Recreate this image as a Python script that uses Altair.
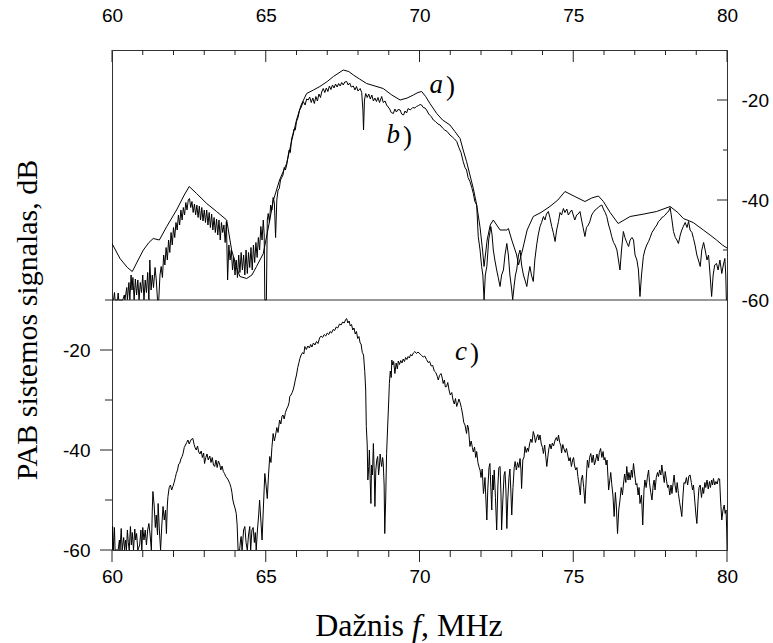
import altair as alt
import pandas as pd

# ---------------- data (frequency MHz, level dB) ----------------
# curve a) – upper panel, smooth envelope
a_pts = [
    (60.00, -48.7), (60.26, -51.7), (60.50, -53.5), (60.66, -54.3), (60.85, -52.0), (61.02, -50.0),
    (61.20, -48.5), (61.34, -47.7), (61.54, -48.0), (61.78, -45.3), (62.10, -42.0), (62.35, -39.0),
    (62.51, -37.3), (62.75, -38.7), (63.08, -40.7), (63.40, -42.3), (63.73, -44.0), (63.89, -50.0),
    (64.05, -53.5), (64.16, -55.3), (64.38, -55.7), (64.55, -55.0), (64.70, -53.3), (64.92, -50.7),
    (65.10, -45.0), (65.25, -40.0), (65.45, -36.0), (65.68, -32.7), (65.85, -28.0), (66.00, -24.0),
    (66.15, -21.0), (66.33, -18.7), (66.55, -18.0), (66.76, -17.3), (67.00, -16.3), (67.20, -15.3),
    (67.52, -14.0), (67.70, -14.3), (67.85, -15.0), (68.05, -15.8), (68.28, -16.7), (68.55, -17.2),
    (68.82, -17.7), (69.10, -19.0), (69.37, -20.0), (69.60, -19.6), (69.80, -19.0), (69.95, -18.5),
    (70.07, -18.3), (70.20, -19.3), (70.34, -20.7), (70.56, -22.7), (70.75, -24.0), (70.99, -25.0),
    (71.15, -26.3), (71.32, -27.7), (71.42, -30.0), (71.53, -32.3), (71.64, -35.0), (71.75, -37.7),
    (71.86, -41.0), (71.97, -45.5), (72.05, -50.0), (72.10, -53.3), (72.20, -48.0), (72.30, -45.0),
    (72.40, -44.0), (72.62, -46.0), (72.84, -46.0), (72.89, -45.7), (73.00, -48.0), (73.16, -51.0),
    (73.22, -53.0), (73.35, -50.0), (73.50, -46.0), (73.70, -43.3), (73.95, -42.5), (74.24, -41.3),
    (74.50, -40.0), (74.73, -38.3), (75.05, -39.3), (75.38, -40.3), (75.60, -39.6), (75.82, -39.2),
    (75.98, -40.3), (76.20, -42.5), (76.46, -44.7), (76.85, -43.3), (77.30, -42.8), (77.71, -42.3),
    (78.15, -41.3), (78.40, -42.5), (78.58, -43.7), (78.90, -44.5), (79.23, -46.0), (79.45, -47.0),
    (79.66, -48.0), (79.85, -49.0), (80.00, -49.6),
]

# curve b) – upper panel, noisy
b_pts = [
    (60.00, -60), (60.05, -60), (60.08, -58.5), (60.10, -60), (60.18, -60), (60.20, -58.6), (60.22, -60),
    (60.35, -60), (60.40, -59), (60.42, -60), (60.48, -57.5), (60.50, -60), (60.55, -56.5), (60.58, -60),
    (60.62, -55), (60.65, -58), (60.68, -55.5), (60.72, -60), (60.76, -55.8), (60.80, -59), (60.84, -56),
    (60.88, -60), (60.92, -56.5), (60.96, -58.5), (61.00, -55), (61.04, -60), (61.08, -56), (61.12, -58.5),
    (61.16, -54.5), (61.20, -60), (61.23, -52), (61.27, -58), (61.31, -55), (61.35, -57.5), (61.40, -53.5),
    (61.44, -56), (61.48, -60), (61.52, -60), (61.56, -55), (61.60, -53.3), (61.64, -55.5), (61.68, -51),
    (61.72, -53), (61.76, -49.5), (61.80, -52), (61.84, -48), (61.88, -50.5), (61.92, -46.5), (61.96, -49),
    (62.00, -45.5), (62.04, -47.5), (62.08, -44.5), (62.12, -46), (62.16, -43), (62.20, -45), (62.24, -42),
    (62.28, -44), (62.32, -41.5), (62.36, -43), (62.40, -40.5), (62.44, -42), (62.48, -40), (62.52, -39.7),
    (62.56, -41.5), (62.60, -40.3), (62.64, -42.5), (62.68, -40.8), (62.72, -43), (62.76, -41), (62.80, -43.5),
    (62.84, -41.2), (62.88, -44), (62.92, -41.5), (62.96, -44.2), (63.00, -42), (63.04, -44.5), (63.08, -42),
    (63.12, -45), (63.16, -42.5), (63.20, -45.5), (63.24, -42.8), (63.28, -46), (63.32, -43.5), (63.36, -46.5),
    (63.40, -43.8), (63.44, -47), (63.48, -44), (63.52, -48), (63.56, -44.5), (63.60, -46.5), (63.64, -45),
    (63.68, -48.5), (63.72, -44.3), (63.76, -56), (63.80, -49), (63.84, -52), (63.88, -50), (63.92, -54),
    (63.96, -51.5), (64.00, -55), (64.04, -52), (64.08, -55.5), (64.12, -51), (64.16, -54.5), (64.20, -50.5),
    (64.24, -54), (64.28, -51), (64.32, -55), (64.36, -50), (64.40, -54.7), (64.44, -50.5), (64.48, -53.5),
    (64.52, -49.5), (64.56, -54), (64.60, -49), (64.64, -52.5), (64.68, -48.5), (64.72, -51.5), (64.76, -47.5),
    (64.80, -50), (64.84, -45.3), (64.88, -48), (64.92, -44), (64.95, -47), (64.97, -60), (65.02, -60),
    (65.05, -44), (65.08, -42.7), (65.12, -44.5), (65.16, -41), (65.20, -42), (65.24, -39.5), (65.28, -40.5),
    (65.32, -47.5), (65.36, -40), (65.40, -38), (65.44, -37.7), (65.48, -36), (65.52, -35.5), (65.56, -35),
    (65.60, -33.5), (65.64, -34), (65.68, -33), (65.72, -31.5), (65.76, -30), (65.80, -30.5), (65.84, -27.7),
    (65.88, -27), (65.92, -25.8), (65.96, -26), (66.00, -24.3), (66.05, -23.5), (66.10, -22), (66.15, -21.5),
    (66.22, -20.3), (66.28, -21), (66.33, -19.8), (66.38, -20), (66.43, -19.4), (66.48, -20.5), (66.53, -19.6),
    (66.58, -20.7), (66.63, -19.3), (66.68, -20.2), (66.73, -18.8), (66.78, -19.5), (66.82, -18.4), (66.87, -17.7),
    (66.92, -18.5), (66.97, -17.6), (67.02, -18.3), (67.07, -17.2), (67.12, -17.9), (67.17, -17), (67.22, -17.6),
    (67.27, -16.8), (67.32, -17.4), (67.37, -16.7), (67.42, -17.2), (67.47, -16.5), (67.52, -17), (67.57, -16.4),
    (67.63, -16.3), (67.68, -17), (67.73, -16.6), (67.78, -17.4), (67.85, -17.2), (67.90, -18), (67.95, -17.3),
    (68.00, -18.2), (68.07, -17.7), (68.12, -18.5), (68.16, -22), (68.18, -26), (68.21, -20), (68.25, -18.7),
    (68.30, -19.5), (68.35, -18.8), (68.40, -19.8), (68.45, -19), (68.50, -20.2), (68.55, -19.6), (68.60, -20.3),
    (68.65, -19.5), (68.70, -20.5), (68.77, -19.3), (68.82, -20.5), (68.88, -20.2), (68.93, -21), (68.98, -21.4),
    (69.03, -21.8), (69.08, -22.5), (69.15, -22.7), (69.20, -21.8), (69.25, -22.4), (69.30, -21.9), (69.37, -22),
    (69.42, -22.8), (69.48, -23), (69.53, -22.2), (69.58, -22.6), (69.63, -21.7), (69.70, -22), (69.78, -21.5),
    (69.85, -21.6), (69.90, -21.3), (69.97, -21.1), (70.02, -20.9), (70.07, -21), (70.12, -21.5), (70.18, -21.6),
    (70.23, -22), (70.30, -22.8), (70.38, -23.3), (70.45, -24), (70.52, -24.3), (70.60, -24.8), (70.67, -25),
    (70.75, -25.6), (70.82, -26), (70.90, -26.3), (70.99, -27), (71.07, -27.4), (71.14, -27.8), (71.21, -28.3),
    (71.28, -29.5), (71.35, -30.5), (71.42, -32.3), (71.48, -33.5), (71.53, -34), (71.58, -35.5), (71.64, -36.3),
    (71.70, -37.5), (71.75, -38.7), (71.80, -40.3), (71.86, -41), (71.91, -47.3), (71.97, -50), (72.02, -53.3),
    (72.06, -55), (72.10, -60), (72.14, -55), (72.19, -53.3), (72.25, -48), (72.32, -45.3), (72.36, -47),
    (72.40, -50), (72.45, -52), (72.51, -54), (72.56, -55.5), (72.62, -57.3), (72.67, -55), (72.73, -54),
    (72.78, -51), (72.84, -48.7), (72.89, -51), (72.94, -55), (73.00, -58), (73.03, -60), (73.08, -57),
    (73.12, -55), (73.16, -54), (73.22, -51), (73.27, -50), (73.32, -53), (73.38, -55), (73.43, -56),
    (73.49, -57.3), (73.54, -55), (73.59, -53.3), (73.64, -55), (73.70, -56.3), (73.75, -52), (73.81, -49),
    (73.86, -47), (73.92, -45.3), (73.97, -44.5), (74.03, -43.3), (74.08, -44), (74.13, -42.8), (74.19, -42.3),
    (74.24, -43.5), (74.30, -45.3), (74.35, -46.5), (74.41, -48.3), (74.46, -46), (74.52, -44.3), (74.57, -42.5),
    (74.62, -43), (74.68, -41.7), (74.73, -42.5), (74.79, -41.8), (74.84, -43), (74.90, -42.4), (74.95, -42),
    (75.00, -43), (75.05, -44), (75.11, -43), (75.16, -42.8), (75.22, -42.3), (75.27, -44), (75.32, -45.5),
    (75.38, -47.3), (75.43, -45.5), (75.49, -45), (75.54, -44.3), (75.60, -43), (75.65, -42.5), (75.71, -42),
    (75.76, -41.8), (75.82, -41.4), (75.87, -41.2), (75.93, -41), (75.98, -41.8), (76.04, -42.5), (76.09, -43.3),
    (76.15, -45), (76.20, -46), (76.25, -47.3), (76.31, -48.5), (76.36, -49), (76.42, -50), (76.47, -52),
    (76.52, -54), (76.57, -50), (76.63, -46.3), (76.68, -47.5), (76.74, -48.5), (76.80, -49.3), (76.85, -48),
    (76.91, -47.5), (76.96, -48), (77.01, -51), (77.07, -52), (77.12, -54), (77.17, -59.3), (77.22, -55),
    (77.28, -51.3), (77.33, -50), (77.39, -49), (77.45, -48.3), (77.50, -47.5), (77.56, -46.5), (77.61, -46),
    (77.66, -45.5), (77.72, -45), (77.77, -44.3), (77.83, -44), (77.88, -43.5), (77.94, -43.3), (77.99, -43),
    (78.05, -42.5), (78.10, -42.3), (78.15, -41.5), (78.21, -44), (78.26, -46.3), (78.32, -47.5), (78.37, -48),
    (78.42, -48.7), (78.48, -47), (78.53, -46), (78.58, -45.3), (78.64, -44.5), (78.70, -45.5), (78.75, -44.3),
    (78.80, -46), (78.86, -46.5), (78.91, -47.7), (78.96, -49), (79.02, -51), (79.07, -52), (79.13, -53.3),
    (79.18, -50), (79.24, -48.5), (79.29, -50), (79.35, -52), (79.40, -51), (79.45, -55), (79.50, -59.3),
    (79.55, -55), (79.60, -53), (79.66, -52.7), (79.71, -54), (79.77, -52), (79.83, -54.7), (79.88, -53),
    (79.93, -51.7), (79.96, -55), (79.98, -60), (80.00, -60),
]

# curve c) – lower panel, noisy
c_pts = [
    (60.00, -60), (60.02, -55.3), (60.04, -60), (60.08, -55.5), (60.10, -60), (60.20, -60), (60.24, -58),
    (60.26, -60), (60.30, -55.7), (60.33, -60), (60.38, -57.5), (60.41, -60), (60.44, -58), (60.47, -60),
    (60.50, -56), (60.53, -58.5), (60.56, -60), (60.60, -55.3), (60.63, -59), (60.66, -56.5), (60.70, -60),
    (60.74, -55.8), (60.77, -58), (60.80, -56.7), (60.84, -60), (60.90, -59), (60.94, -56), (60.97, -60),
    (61.00, -55.5), (61.04, -58), (61.08, -56), (61.12, -59), (61.16, -56), (61.20, -54.7), (61.24, -57),
    (61.28, -60), (61.31, -52), (61.33, -48.3), (61.37, -51), (61.41, -55.5), (61.44, -53), (61.48, -57),
    (61.50, -50.7), (61.54, -56), (61.58, -60), (61.62, -55), (61.66, -51.3), (61.70, -54), (61.74, -52),
    (61.77, -56.7), (61.80, -51), (61.82, -49.3), (61.86, -47.5), (61.90, -47), (61.94, -48), (61.98, -47.3),
    (62.02, -46.5), (62.06, -45.5), (62.09, -44.7), (62.13, -44), (62.17, -42.8), (62.20, -42.7), (62.24, -41.8),
    (62.28, -41.3), (62.31, -40.7), (62.35, -39.5), (62.39, -39), (62.43, -38.5), (62.47, -38), (62.51, -38.8),
    (62.55, -38.2), (62.59, -37.8), (62.63, -37.7), (62.67, -38.9), (62.70, -39.5), (62.74, -40), (62.78, -39.2),
    (62.82, -40.4), (62.86, -40.8), (62.90, -40.2), (62.94, -41.5), (62.98, -40.6), (63.01, -42.7), (63.05, -41.5),
    (63.09, -40.8), (63.13, -42), (63.18, -41.2), (63.22, -42.5), (63.26, -41.5), (63.30, -43), (63.34, -43.3),
    (63.38, -42), (63.42, -43.5), (63.46, -42.2), (63.50, -42.8), (63.54, -44), (63.58, -43.2), (63.62, -44.3),
    (63.66, -44.7), (63.70, -45.3), (63.74, -45.6), (63.78, -46), (63.83, -46.7), (63.87, -47.5), (63.90, -48.5),
    (63.93, -50), (63.97, -51), (64.01, -51.8), (64.04, -52.7), (64.07, -55), (64.10, -60), (64.15, -60),
    (64.18, -58), (64.20, -57.3), (64.23, -60), (64.28, -56), (64.32, -55.3), (64.36, -58.5), (64.40, -60),
    (64.44, -57), (64.48, -55.3), (64.51, -60), (64.55, -56), (64.59, -55.5), (64.63, -58.5), (64.66, -56.5),
    (64.69, -60), (64.73, -56), (64.77, -53), (64.80, -50), (64.84, -54), (64.88, -58), (64.92, -52),
    (64.97, -44.7), (65.01, -47), (65.05, -49.7), (65.09, -45), (65.13, -41.3), (65.17, -42.5), (65.20, -39.5),
    (65.24, -36.7), (65.28, -38.2), (65.32, -37), (65.36, -35.5), (65.40, -36.5), (65.45, -34), (65.49, -34.8),
    (65.53, -33.2), (65.56, -33), (65.60, -33.8), (65.64, -32.5), (65.68, -31.8), (65.72, -31.3), (65.76, -30.5),
    (65.78, -29.3), (65.82, -29), (65.86, -28.5), (65.89, -28), (65.93, -27), (65.96, -26), (66.00, -25),
    (66.04, -23.5), (66.08, -22.5), (66.11, -21.7), (66.15, -21), (66.20, -20.5), (66.24, -20.8), (66.27, -19.3),
    (66.32, -19.9), (66.37, -19.2), (66.42, -19.6), (66.46, -18.9), (66.50, -19.4), (66.55, -18.6), (66.60, -19),
    (66.65, -18.3), (66.70, -18.7), (66.75, -17.6), (66.80, -17.2), (66.85, -17.5), (66.90, -16.9), (66.95, -17.2),
    (67.00, -16.6), (67.05, -16.9), (67.09, -16.3), (67.14, -16.6), (67.19, -15.9), (67.24, -16.1), (67.29, -15.4),
    (67.34, -15.6), (67.40, -14.8), (67.45, -15), (67.50, -14.4), (67.55, -14.6), (67.60, -13.9), (67.63, -13.7),
    (67.67, -14.6), (67.71, -14.2), (67.75, -15.2), (67.79, -14.9), (67.83, -16), (67.87, -15.6), (67.91, -16.8),
    (67.95, -16.3), (67.99, -17.7), (68.03, -17.3), (68.07, -18.6), (68.10, -18.8), (68.14, -20.5), (68.18, -21),
    (68.22, -24.3), (68.25, -28), (68.27, -35.3), (68.30, -39), (68.32, -46), (68.35, -43.3), (68.37, -40),
    (68.40, -47), (68.42, -50.7), (68.44, -43), (68.47, -45), (68.50, -38.7), (68.53, -45), (68.55, -51.3),
    (68.58, -44), (68.61, -42), (68.64, -41.3), (68.67, -45), (68.70, -43), (68.72, -40.8), (68.75, -42.5),
    (68.77, -43.3), (68.80, -41.5), (68.82, -42.5), (68.85, -47), (68.87, -56.7), (68.90, -50), (68.93, -40.7),
    (68.96, -36), (69.00, -30), (69.02, -26.7), (69.05, -24.2), (69.08, -25.5), (69.10, -22), (69.13, -23),
    (69.16, -22.3), (69.20, -24.7), (69.24, -22.6), (69.28, -23.8), (69.31, -22.2), (69.35, -22.9), (69.39, -22.1),
    (69.43, -22.6), (69.47, -21.8), (69.51, -22.3), (69.55, -21.5), (69.59, -21.9), (69.63, -21.3), (69.67, -21.6),
    (69.71, -20.9), (69.75, -21.2), (69.80, -20.6), (69.85, -20.3), (69.90, -20.7), (69.95, -20.4), (70.02, -20.8),
    (70.07, -21.1), (70.12, -21.4), (70.17, -21.2), (70.23, -21.9), (70.28, -22.5), (70.33, -22.3), (70.38, -23.2),
    (70.43, -23.1), (70.48, -24.2), (70.53, -24.5), (70.58, -25.3), (70.61, -26), (70.65, -25.1), (70.70, -24.7),
    (70.74, -25.6), (70.77, -26.7), (70.81, -26), (70.84, -27.4), (70.88, -27.3), (70.92, -26.5), (70.96, -28),
    (71.00, -29), (71.05, -28.5), (71.09, -30), (71.13, -30.8), (71.17, -29.7), (71.21, -31.3), (71.25, -30.5),
    (71.28, -29.8), (71.32, -30.5), (71.36, -31.5), (71.40, -32.8), (71.44, -34.5), (71.48, -35), (71.53, -36.7),
    (71.56, -35), (71.59, -35.5), (71.62, -37.8), (71.64, -39.3), (71.68, -38.2), (71.72, -39.5), (71.75, -40.4),
    (71.79, -39.4), (71.83, -41.5), (71.86, -40.3), (71.90, -42.5), (71.94, -43.5), (71.97, -44), (72.00, -45.5),
    (72.04, -43.8), (72.08, -48.7), (72.11, -47), (72.13, -45.5), (72.16, -50), (72.19, -54), (72.22, -48),
    (72.26, -43.5), (72.29, -42.7), (72.32, -47.5), (72.35, -52), (72.38, -45), (72.40, -48), (72.43, -44),
    (72.47, -49.5), (72.51, -56), (72.55, -47), (72.58, -43.5), (72.62, -43.3), (72.65, -49), (72.67, -56),
    (72.71, -50), (72.75, -45), (72.78, -44.3), (72.81, -48), (72.84, -55.7), (72.87, -50), (72.91, -45.5),
    (72.94, -43.8), (72.97, -48), (73.00, -53), (73.04, -47.5), (73.08, -43.5), (73.11, -42.3), (73.15, -44),
    (73.19, -42.5), (73.23, -43.5), (73.27, -41.7), (73.30, -44), (73.32, -47.7), (73.36, -42), (73.40, -41.4),
    (73.43, -39.3), (73.47, -40.5), (73.51, -39.6), (73.54, -40.3), (73.58, -38.8), (73.62, -37.8), (73.66, -38.5),
    (73.70, -36.3), (73.74, -37.2), (73.77, -38.5), (73.81, -37.5), (73.85, -36.9), (73.88, -38), (73.92, -37),
    (73.96, -38.8), (74.00, -39.5), (74.03, -40.7), (74.07, -39), (74.11, -41.5), (74.14, -43.3), (74.18, -41),
    (74.21, -39.6), (74.24, -38.8), (74.28, -39.8), (74.32, -38.6), (74.36, -39.2), (74.41, -38), (74.45, -37.5),
    (74.49, -38.2), (74.52, -37), (74.56, -38.5), (74.60, -39.2), (74.62, -40.6), (74.66, -38.9), (74.70, -39.8),
    (74.74, -40.5), (74.78, -39.7), (74.82, -41), (74.86, -42.2), (74.90, -41.5), (74.94, -43.3), (74.98, -42),
    (75.01, -41.5), (75.04, -43), (75.08, -44), (75.12, -43.5), (75.15, -45.3), (75.19, -47), (75.23, -49),
    (75.26, -46), (75.30, -45), (75.34, -47.5), (75.38, -50.7), (75.42, -46), (75.46, -42), (75.50, -43.5),
    (75.53, -41.5), (75.57, -40.7), (75.61, -42.5), (75.65, -41), (75.69, -43), (75.73, -42), (75.77, -40.8),
    (75.81, -42.2), (75.85, -40.5), (75.89, -39.7), (75.93, -41.5), (75.97, -40.3), (76.00, -42), (76.03, -41.5),
    (76.07, -43), (76.10, -42), (76.13, -45.5), (76.15, -48), (76.19, -46), (76.22, -44.5), (76.25, -46.7),
    (76.29, -49), (76.33, -53.3), (76.37, -48.5), (76.40, -51), (76.44, -56.7), (76.48, -52), (76.52, -50),
    (76.56, -47.5), (76.60, -49), (76.63, -47), (76.67, -44.8), (76.71, -46.5), (76.74, -43.3), (76.78, -46),
    (76.81, -44.5), (76.85, -46), (76.89, -44), (76.92, -45.5), (76.96, -42.7), (77.00, -45), (77.04, -47),
    (77.07, -46.7), (77.11, -49), (77.14, -47.5), (77.17, -50.7), (77.22, -49), (77.26, -55), (77.30, -48),
    (77.33, -46), (77.37, -47.5), (77.41, -45.5), (77.45, -44), (77.48, -46.5), (77.52, -48.5), (77.56, -50),
    (77.60, -47), (77.63, -46), (77.66, -48), (77.70, -45.5), (77.74, -44.5), (77.77, -45.3), (77.81, -44),
    (77.85, -45), (77.88, -43), (77.92, -44.8), (77.96, -46.5), (77.99, -44.3), (78.03, -46), (78.07, -47.5),
    (78.10, -47), (78.14, -49), (78.18, -47), (78.21, -48.7), (78.25, -46.5), (78.28, -45), (78.31, -47),
    (78.35, -48.5), (78.38, -46.5), (78.42, -48.7), (78.46, -50.5), (78.50, -52), (78.53, -53.3), (78.57, -49),
    (78.60, -46.5), (78.64, -46.7), (78.68, -45.5), (78.72, -47), (78.76, -45.2), (78.80, -45), (78.84, -46.5),
    (78.88, -48), (78.91, -47), (78.95, -50), (78.99, -53), (79.02, -54.7), (79.06, -50), (79.09, -47.5),
    (79.13, -47), (79.17, -49.5), (79.21, -47.5), (79.24, -48.7), (79.28, -46.5), (79.31, -47.5), (79.35, -46),
    (79.39, -47.8), (79.43, -46.3), (79.46, -47.5), (79.50, -46), (79.53, -47), (79.56, -45.7), (79.60, -47),
    (79.64, -46.3), (79.68, -46.8), (79.72, -45.7), (79.76, -45.8), (79.79, -50), (79.83, -54), (79.87, -52),
    (79.91, -51), (79.94, -52.7), (79.97, -52), (79.99, -56), (80.00, -60),
]

# curve annotations
lab_letter = ["a", "b", "c"]
lab_f = [70.80, 69.40, 71.58]
lab_db = [-18.6, -28.6, -22.0]
lab_panel = ["top", "top", "bottom"]

# tick values
x_major = [60, 65, 70, 75, 80]
x_minor = [61, 62, 63, 64, 66, 67, 68, 69, 71, 72, 73, 74, 76, 77, 78, 79]
y_major = [-60, -40, -20]
y_minor = [-50, -30, -10]

# the upper panel is stacked above the lower one on a single y scale
TOP_SHIFT = 50

def frame(pts, panel):
    df = pd.DataFrame(pts, columns=["f", "db"])
    df["panel"] = panel
    return df

df_a = frame(a_pts, "top")
df_b = frame(b_pts, "top")
df_c = frame(c_pts, "bottom")
df_lab = pd.DataFrame({"letter": lab_letter, "f": lab_f, "db": lab_db, "panel": lab_panel})
df_lab["paren"] = ")"
df_sep = pd.DataFrame({"y": [-10]})

shift = f"datum.panel == 'top' ? datum.db + {TOP_SHIFT} : datum.db"

XS = alt.Scale(domain=[60, 80], nice=False, zero=False)
YS = alt.Scale(domain=[-60, 40], nice=False, zero=False)

SANS = "Liberation Sans"
SERIF = "Liberation Serif"
TICK = "#222222"
W, H = 615, 500

def ax(**kw):
    base = dict(grid=False, title=None, domain=False, labelFont=SANS, labelFontSize=19,
                labelColor="black", ticks=False, tickSize=0, labelFlush=False, labelOverlap=False)
    base.update(kw)
    return alt.Axis(**base)

line_style = dict(color="black", strokeWidth=1, clip=True, interpolate="linear")

# curve a with label axes of the upper panel (top x labels, right y labels)
layer_a = alt.Chart(df_a).transform_calculate(y=shift).mark_line(**line_style).encode(
    x=alt.X("f:Q", scale=XS, axis=ax(orient="top", values=x_major, labelPadding=25,
                                     labelExpr="'' + datum.value")),
    y=alt.Y("y:Q", scale=YS, axis=ax(orient="right", values=[v + TOP_SHIFT for v in y_major],
                                     labelPadding=14, labelExpr=f"'' + (datum.value - {TOP_SHIFT})")),
    order="f:Q",
)

layer_b = alt.Chart(df_b).transform_calculate(y=shift).mark_line(**line_style).encode(
    x=alt.X("f:Q", scale=XS, axis=None),
    y=alt.Y("y:Q", scale=YS, axis=None),
    order="f:Q",
)

# curve c with label axes of the lower panel
layer_c = alt.Chart(df_c).transform_calculate(y=shift).mark_line(**line_style).encode(
    x=alt.X("f:Q", scale=XS, axis=ax(orient="bottom", values=x_major, labelPadding=17,
                                     labelExpr="'' + datum.value")),
    y=alt.Y("y:Q", scale=YS, axis=ax(orient="left", values=y_major, labelPadding=22,
                                     labelExpr="'' + datum.value")),
    order="f:Q",
)

# separator between the panels
layer_sep = alt.Chart(df_sep).mark_rule(color="#333333", strokeWidth=1).encode(
    y=alt.Y("y:Q", scale=YS, axis=None),
)

# ---- tick marks (positions come from the tick value lists through the scales) ----
def xticks(values, y0, y1):
    return alt.Chart(pd.DataFrame({"f": values})).mark_rule(color=TICK, strokeWidth=1).encode(
        x=alt.X("f:Q", scale=XS, axis=None), y=alt.value(y0), y2=alt.value(y1))

def yticks(values, shift_by, x0, x1):
    return alt.Chart(pd.DataFrame({"v": values})).transform_calculate(
        y=f"datum.v + {shift_by}").mark_rule(color=TICK, strokeWidth=1).encode(
        y=alt.Y("y:Q", scale=YS, axis=None), x=alt.value(x0), x2=alt.value(x1))

tick_layers = [
    xticks(x_major, 0, 12), xticks(x_minor, 0, 5),              # upper panel, inward from top
    xticks(x_major, H, H + 12), xticks(x_minor, H, H + 7),      # lower panel, outward at bottom
    yticks([-40, -20], TOP_SHIFT, W, W - 10),                   # upper panel, inward from right
    yticks([-50, -30], TOP_SHIFT, W, W - 4),
    yticks(y_major, 0, 0, -12),                                 # lower panel, outward on left
    yticks(y_minor, 0, 0, -7),
]

# curve labels: italic letter and an upright closing bracket
layer_letters = alt.Chart(df_lab).transform_calculate(y=shift).mark_text(
    font=SERIF, fontStyle="italic", fontSize=27, align="right", baseline="alphabetic", dx=-1, color="black"
).encode(x=alt.X("f:Q", scale=XS, axis=None), y=alt.Y("y:Q", scale=YS, axis=None), text="letter:N")

layer_paren = alt.Chart(df_lab).transform_calculate(y=shift).mark_text(
    font=SERIF, fontSize=27, align="left", baseline="alphabetic", dx=2, dy=2, color="black"
).encode(x=alt.X("f:Q", scale=XS, axis=None), y=alt.Y("y:Q", scale=YS, axis=None), text="paren:N")

# axis titles
t1 = alt.Chart(pd.DataFrame({"t": ["Dažnis"]})).mark_text(
    font=SERIF, fontSize=32, align="right", baseline="alphabetic", color="black").encode(
    text="t:N", x=alt.value(292), y=alt.value(586))
t2 = alt.Chart(pd.DataFrame({"t": ["f"]})).mark_text(
    font=SERIF, fontSize=32, fontStyle="italic", align="left", baseline="alphabetic", color="black").encode(
    text="t:N", x=alt.value(300), y=alt.value(586))
t3 = alt.Chart(pd.DataFrame({"t": [", MHz"]})).mark_text(
    font=SERIF, fontSize=32, align="left", baseline="alphabetic", color="black").encode(
    text="t:N", x=alt.value(309), y=alt.value(586))
ty = alt.Chart(pd.DataFrame({"t": ["PAB sistemos signalas, dB"]})).mark_text(
    font=SERIF, fontSize=30, angle=270, align="center", baseline="middle", color="black").encode(
    text="t:N", x=alt.value(-84), y=alt.value(270))

chart = alt.layer(
    layer_a, layer_b, layer_c, layer_sep, *tick_layers, layer_letters, layer_paren, t1, t2, t3, ty
).resolve_axis(x="independent", y="independent").properties(
    width=W, height=H,
    autosize=alt.AutoSizeParams(type="none"),
    padding={"left": 112, "top": 50, "right": 46, "bottom": 93},
    background="white",
).configure_view(stroke="#333333", strokeWidth=1)

chart.save("out.html", embed_options={"renderer": "svg", "actions": False})
